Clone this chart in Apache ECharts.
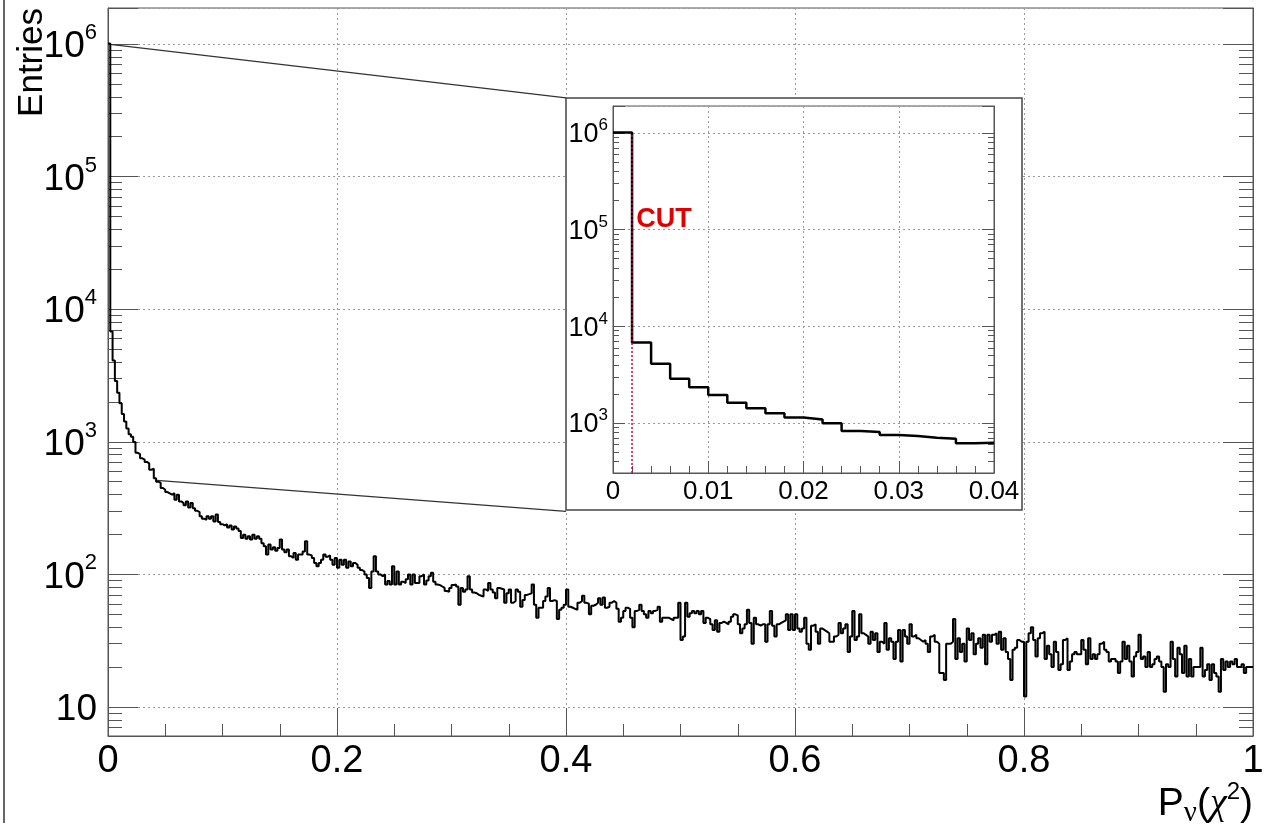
<!DOCTYPE html>
<html>
<head>
<meta charset="utf-8">
<script src="https://cdn.jsdelivr.net/npm/echarts@6/dist/echarts.min.js"></script>
<style>
html,body{margin:0;padding:0;background:#fff;}
#chart{width:1265px;height:827px;}
</style>
</head>
<body>
<div id="chart"></div>
<script>
// ---------------- data ----------------
const BIN_WIDTH = 0.002;           // histogram bin width in P(chi2)
const INSET_BINS = 20;             // inset shows 0 .. 0.04
const counts = [
  1010000, 6800, 4100, 2870, 2340, 1950, 1620, 1420, 1260, 1140,
  1090, 995, 826, 807, 751, 734, 705, 688, 616, 626,
  530, 500, 490, 448, 435, 418, 408, 399, 410, 366,
  399, 355, 345, 332, 355, 320, 345, 316, 302, 295,
  274, 263, 258, 274, 263, 274, 251, 283, 248, 239,
  234, 239, 226, 234, 218, 230, 222, 212, 188, 199,
  186, 194, 183, 199, 186, 194, 186, 172, 163, 141,
  168, 154, 160, 151, 158, 183, 154, 147, 154, 137,
  133, 145, 129, 141, 141, 149, 178, 141, 139, 133,
  122, 115, 122, 129, 141, 136, 139, 129, 118, 133,
  112, 129, 118, 129, 112, 125, 115, 122, 118, 112,
  108, 105, 100, 94, 79, 105, 137, 105, 100, 97,
  100, 84, 89, 84, 115, 84, 105, 84, 88, 86,
  92, 100, 84, 100, 86, 86, 97, 100, 84, 90,
  97, 103, 88, 84, 83, 81, 79, 75, 74, 79,
  83, 84, 81, 59, 79, 74, 77, 97, 77, 73,
  72, 70, 69, 68, 77, 75, 86, 77, 73, 66,
  79, 78, 77, 61, 72, 77, 61, 63, 77, 74,
  57, 64, 70, 71, 72, 84, 59, 47, 56, 56,
  63, 68, 79, 63, 64, 63, 46, 54, 56, 59,
  77, 57, 56, 55, 54, 61, 63, 69, 61, 60,
  50, 58, 59, 61, 66, 59, 67, 56, 57, 61,
  63, 61, 55, 44, 47, 53, 56, 55, 47, 40,
  53, 54, 59, 53, 50, 47, 53, 51, 53, 54,
  57, 44, 47, 47, 47, 46, 45, 47, 47, 61,
  32, 34, 61, 48, 51, 53, 51, 53, 50, 53,
  43, 47, 46, 42, 38, 45, 37, 43, 44, 43,
  42, 44, 48, 50, 49, 42, 36, 39, 42, 54,
  43, 30, 47, 42, 41, 42, 42, 31, 42, 53,
  41, 34, 42, 43, 44, 45, 50, 38, 50, 38,
  50, 39, 37, 39, 47, 30, 27, 41, 42, 37,
  30, 39, 38, 37, 36, 31, 31, 34, 35, 43,
  36, 39, 42, 26, 34, 53, 32, 34, 50, 36,
  35, 34, 30, 37, 32, 36, 26, 31, 30, 43,
  27, 33, 31, 23, 31, 38, 22, 38, 34, 30,
  42, 34, 35, 33, 32, 31, 32, 30, 26, 34,
  35, 31, 30, 18, 18, 16, 30, 30, 31, 46,
  23, 33, 26, 30, 22, 39, 32, 36, 25, 30,
  33, 28, 35, 21, 35, 31, 35, 36, 30, 37,
  27, 33, 26, 23, 16, 27, 28, 32, 31, 31,
  12, 31, 36, 40, 32, 24, 33, 36, 37, 23,
  29, 25, 20, 31, 26, 19, 21, 32, 33, 19,
  22, 25, 26, 25, 25, 32, 27, 21, 33, 23,
  25, 23, 25, 30, 31, 27, 26, 22, 23, 23,
  22, 18, 22, 31, 23, 29, 22, 17, 24, 26,
  35, 23, 24, 20, 26, 20, 21, 23, 24, 22,
  20, 13, 21, 20, 31, 23, 17, 28, 25, 18,
  29, 17, 23, 17, 20, 20, 20, 28, 17, 19,
  21, 16, 21, 18, 17, 13, 23, 19, 22, 20,
  22, 21, 23, 20, 20, 21, 18, 20, 20, 20
];

const xTickValues = [0, 0.2, 0.4, 0.6, 0.8, 1];
const xTickLabels = ['0', '0.2', '0.4', '0.6', '0.8', '1'];
const yTickValues = [10, 100, 1000, 10000, 100000, 1000000];
const yTickLabels = ['{n|10}', '{n|10}{s|2}', '{n|10}{s|3}', '{n|10}{s|4}', '{n|10}{s|5}', '{n|10}{s|6}'];
const insetXTickValues = [0, 0.01, 0.02, 0.03, 0.04];
const insetXTickLabels = ['0', '0.01', '0.02', '0.03', '0.04'];
const insetYTickValues = [1000, 10000, 100000, 1000000];
const insetYTickLabels = ['{n|10}{s|3}', '{n|10}{s|4}', '{n|10}{s|5}', '{n|10}{s|6}'];

const mainRange = { xMin: 0, xMax: 1, yMin: 6.04, yMax: 1.87e6 };
const insetRange = { xMin: 0, xMax: 0.04, yMin: 304, yMax: 1.9e6 };
const cutX = 0.002;
const cutLabel = 'CUT';
const cutLabelPoint = [0.0025, 100000];
// zoom-connector lines (from main data region to inset box corners)
const zoomLineTop = [[0, 1000000], [0.4, 392000]];
const zoomLineBottom = [[0.0425, 512], [0.4, 299]];
const xTitle = '{p|P}{sub|ν}{p|(}{g|χ}{sup|2}{p|)}';
const yTitle = 'Entries';

// ---------------- helpers ----------------
function stepData(vals, n) {
  const d = [];
  for (let i = 0; i < n; i++) d.push([+(i * BIN_WIDTH).toFixed(4), vals[i]]);
  d.push([+(n * BIN_WIDTH).toFixed(4), vals[n - 1]]);
  return d;
}
function lookup(values, labels, v) {
  for (let i = 0; i < values.length; i++) {
    if (Math.abs(values[i] - v) <= Math.abs(values[i]) * 1e-6 + 1e-9) return labels[i];
  }
  return '';
}

const FONT = "'Liberation Sans', Arial, Helvetica, sans-serif";
const SERIF = "'Liberation Serif', 'DejaVu Serif', serif";
const AX = '#555';
const GRIDC = '#9a9a9a';

const chart = echarts.init(document.getElementById('chart'), null, { renderer: 'canvas' });

const option = {
  animation: false,
  backgroundColor: '#fff',
  grid: [
    { left: 108, right: 12, top: 8, bottom: 91, containLabel: false, outerBoundsMode: 'none',
      show: true, borderColor: AX, borderWidth: 1, z: 0 },
    { left: 613, top: 106, width: 381, height: 367, containLabel: false, outerBoundsMode: 'none',
      show: true, borderColor: AX, borderWidth: 1, backgroundColor: 'rgba(0,0,0,0)', z: 4 }
  ],
  xAxis: [
    {
      gridIndex: 0, type: 'value', min: mainRange.xMin, max: mainRange.xMax, interval: 0.2,
      axisLine: { show: true, onZero: false, lineStyle: { color: AX, width: 1 } },
      axisTick: { show: true, inside: true, length: 28, lineStyle: { color: AX } },
      minorTick: { show: true, splitNumber: 4, length: 12, lineStyle: { color: AX } },
      splitLine: { show: true, lineStyle: { color: GRIDC, type: [2, 3], width: 1 } },
      axisLabel: {
        fontSize: 38, fontFamily: FONT, color: '#000', margin: 7,
        formatter: v => lookup(xTickValues, xTickLabels, v)
      },
      z: 0
    },
    {
      gridIndex: 1, type: 'value', min: insetRange.xMin, max: insetRange.xMax, interval: 0.01,
      axisLine: { show: true, onZero: false, lineStyle: { color: AX, width: 1 } },
      axisTick: { show: true, inside: true, length: 12, lineStyle: { color: AX } },
      minorTick: { show: true, splitNumber: 5, length: 7, lineStyle: { color: AX } },
      splitLine: { show: true, lineStyle: { color: GRIDC, type: [2, 3], width: 1 } },
      axisLabel: {
        fontSize: 26, fontFamily: FONT, color: '#000', margin: 6,
        formatter: v => lookup(insetXTickValues, insetXTickLabels, v)
      },
      z: 4
    }
  ],
  yAxis: [
    {
      gridIndex: 0, type: 'log', logBase: 10, min: mainRange.yMin, max: mainRange.yMax, position: 'left',
      axisLine: { show: true, lineStyle: { color: AX, width: 1 } },
      axisTick: { show: true, inside: true, length: 30, lineStyle: { color: AX } },
      minorTick: { show: true, splitNumber: 9, length: 14, lineStyle: { color: AX } },
      splitLine: { show: true, lineStyle: { color: GRIDC, type: [2, 3], width: 1 } },
      axisLabel: {
        margin: 11, color: '#000',
        formatter: v => lookup(yTickValues, yTickLabels, v),
        rich: {
          n: { fontSize: 37, fontFamily: FONT, color: '#000', lineHeight: 44, verticalAlign: 'middle', padding: [6, 0, 0, 0] },
          s: { fontSize: 22, fontFamily: FONT, color: '#000', lineHeight: 30, verticalAlign: 'top' }
        }
      },
      z: 0
    },
    {
      gridIndex: 0, type: 'log', logBase: 10, min: mainRange.yMin, max: mainRange.yMax, position: 'right',
      axisLine: { show: true, lineStyle: { color: AX, width: 1 } },
      axisTick: { show: true, inside: true, length: 30, lineStyle: { color: AX } },
      minorTick: { show: true, splitNumber: 9, length: 14, lineStyle: { color: AX } },
      splitLine: { show: false },
      axisLabel: { show: false },
      z: 0
    },
    {
      gridIndex: 1, type: 'log', logBase: 10, min: insetRange.yMin, max: insetRange.yMax, position: 'left',
      axisLine: { show: true, lineStyle: { color: AX, width: 1 } },
      axisTick: { show: true, inside: true, length: 12, lineStyle: { color: AX } },
      minorTick: { show: true, splitNumber: 9, length: 6, lineStyle: { color: AX } },
      splitLine: { show: true, lineStyle: { color: GRIDC, type: [2, 3], width: 1 } },
      axisLabel: {
        margin: 5, color: '#000',
        formatter: v => lookup(insetYTickValues, insetYTickLabels, v),
        rich: {
          n: { fontSize: 27, fontFamily: FONT, color: '#000', lineHeight: 32, verticalAlign: 'middle', padding: [4, 0, 0, 0] },
          s: { fontSize: 17, fontFamily: FONT, color: '#000', lineHeight: 22, verticalAlign: 'top' }
        }
      },
      z: 4
    },
    {
      gridIndex: 1, type: 'log', logBase: 10, min: insetRange.yMin, max: insetRange.yMax, position: 'right',
      axisLine: { show: true, lineStyle: { color: AX, width: 1 } },
      axisTick: { show: true, inside: true, length: 12, lineStyle: { color: AX } },
      minorTick: { show: true, splitNumber: 9, length: 6, lineStyle: { color: AX } },
      splitLine: { show: false },
      axisLabel: { show: false },
      z: 4
    }
  ],
  graphic: {
    elements: [
      { type: 'line', shape: { x1: 4, y1: 0, x2: 4, y2: 823 }, style: { stroke: '#666', lineWidth: 2 }, z: 0, silent: true },
      { type: 'rect', shape: { x: 566, y: 98, width: 456, height: 412 }, style: { fill: '#fff', stroke: '#444', lineWidth: 1.5 }, z: 3, silent: true },
      {
        type: 'text', rotation: Math.PI / 2, x: 32, y: 8, z: 3,
        style: { text: yTitle, font: "35px 'Liberation Sans', Arial, sans-serif", fill: '#000', align: 'right', verticalAlign: 'middle' }
      },
      {
        type: 'text', x: 1253, y: 804, z: 3,
        style: {
          text: xTitle, align: 'right', verticalAlign: 'middle', fill: '#000',
          rich: {
            p: { fontSize: 39, fontFamily: FONT, fill: '#000', lineHeight: 48, verticalAlign: 'middle' },
            sub: { fontSize: 29, fontFamily: SERIF, fill: '#000', lineHeight: 28, verticalAlign: 'bottom' },
            g: { fontSize: 38, fontFamily: SERIF, fontStyle: 'italic', fill: '#000', lineHeight: 48, verticalAlign: 'middle' },
            sup: { fontSize: 24, fontFamily: FONT, fill: '#000', lineHeight: 28, verticalAlign: 'top' }
          }
        }
      }
    ]
  },
  series: [
    {
      type: 'line', xAxisIndex: 0, yAxisIndex: 0, data: zoomLineTop, symbol: 'none', silent: true,
      lineStyle: { color: '#333', width: 1.2 }, z: 1
    },
    {
      type: 'line', xAxisIndex: 0, yAxisIndex: 0, data: zoomLineBottom, symbol: 'none', silent: true,
      lineStyle: { color: '#333', width: 1.2 }, z: 1
    },
    {
      name: 'main', type: 'line', step: 'end', xAxisIndex: 0, yAxisIndex: 0,
      data: stepData(counts, counts.length), symbol: 'none', showSymbol: false,
      lineStyle: { color: '#000', width: 2 }, z: 2
    },
    {
      name: 'inset', type: 'line', step: 'end', xAxisIndex: 1, yAxisIndex: 2,
      data: stepData(counts, INSET_BINS), symbol: 'none', showSymbol: false,
      lineStyle: { color: '#000', width: 2.5 }, z: 6,
      markLine: {
        silent: true, symbol: ['none', 'none'], z: 7,
        lineStyle: { color: '#d0003a', type: [2, 2], width: 1.5 },
        label: { show: false },
        data: [[{ coord: [cutX, insetRange.yMin] }, { coord: [cutX, 1000000] }]]
      },
      markPoint: {
        silent: true, z: 7,
        data: [{
          coord: cutLabelPoint, symbol: 'rect', symbolSize: 1, itemStyle: { color: 'rgba(0,0,0,0)' },
          label: {
            show: true, formatter: cutLabel, position: [0, 0], align: 'left', verticalAlign: 'bottom',
            fontSize: 27, fontWeight: 'bold', fontFamily: FONT, color: '#e00000', offset: [0, 4]
          }
        }]
      }
    }
  ]
};
chart.setOption(option);
</script>
</body>
</html>
